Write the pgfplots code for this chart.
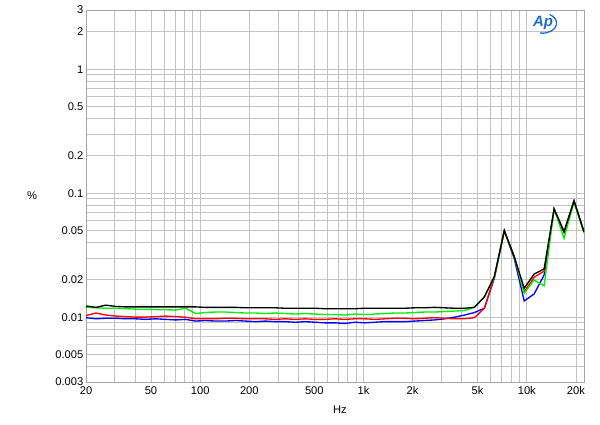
\documentclass[border=0pt]{standalone}
\usepackage{pgfplots}
\pgfplotsset{compat=1.18}
\usepackage{fontspec}
\setmainfont{Liberation Sans}
\definecolor{gridc}{RGB}{195,195,195}
\definecolor{framec}{RGB}{165,165,165}
\definecolor{apblue}{RGB}{30,110,200}
\definecolor{tgreen}{RGB}{0,240,0}
\begin{document}
\begin{tikzpicture}
\useasboundingbox (-86bp,-43bp) rectangle (514bp,382bp);
\begin{axis}[
  at={(0,0)}, anchor=south west,
  scale only axis, width=498bp, height=372bp,
  xmode=log, ymode=log,
  xmin=20, xmax=22400, ymin=0.003, ymax=3,
  xtick={20,50,100,200,500,1000,2000,5000,10000,20000},
  xticklabels={20,50,100,200,500,1k,2k,5k,10k,20k},
  minor xtick={30,40,60,70,80,90,300,400,600,700,800,900,3000,4000,6000,7000,8000,9000},
  ytick={0.003,0.005,0.01,0.02,0.05,0.1,0.2,0.5,1,2,3},
  yticklabels={0.003,0.005,0.01,0.02,0.05,0.1,0.2,0.5,1,2,3},
  minor ytick={0.004,0.006,0.007,0.008,0.009,0.03,0.04,0.06,0.07,0.08,0.09,0.3,0.4,0.6,0.7,0.8,0.9},
  grid=both,
  major grid style={gridc, line width=0.7pt},
  minor grid style={gridc, line width=0.7pt},
  axis line style={framec, line width=0.8pt},
  major tick length=0pt, minor tick length=0pt,
  tick label style={font=\fontsize{11.2}{13}\selectfont},
  yticklabel style={inner sep=2.5bp},
  xticklabel style={inner sep=0bp, yshift=-4.5bp},
  label style={font=\fontsize{11.2}{13}\selectfont},
  xlabel={Hz},
  xlabel style={at={(axis description cs:0.51,0)}, anchor=center, yshift=-28bp},
  ylabel={\%},
  ylabel style={rotate=-90, at={(axis description cs:0,0.5)}, anchor=center, xshift=-54bp},
  clip=true,
]
% blue
\addplot[blue, line width=1.35pt] table {
20 0.0099
23.0 0.0097
26.5 0.0098
30.5 0.0098
35.1 0.0097
40.4 0.0097
46.4 0.0096
53.4 0.0097
61.5 0.0096
70.8 0.0095
81.4 0.0096
93.7 0.0093
107.8 0.0094
124.1 0.0093
142.8 0.0093
164.3 0.0094
189.1 0.0093
217.6 0.0092
250.4 0.0093
288.2 0.0092
331.6 0.0092
381.6 0.0091
439.2 0.0092
505.4 0.0091
581.6 0.0090
669.3 0.0090
770.2 0.0089
886.3 0.0091
1020 0.0090
1174 0.0091
1351 0.0092
1554 0.0092
1788 0.0092
2058 0.0093
2368 0.0094
2725 0.0095
3136 0.0097
3609 0.0100
4153 0.0104
4779 0.0109
5499 0.0118
6328 0.0206
7282 0.0498
8380 0.0297
9643 0.0135
11097 0.0154
12770 0.0219
14695 0.0745
16910 0.0487
19459 0.0865
22393 0.0488
};
% red
\addplot[red, line width=1.35pt] table {
20 0.0103
23.0 0.0108
26.5 0.0104
30.5 0.0102
35.1 0.0101
40.4 0.0100
46.4 0.0100
53.4 0.0101
61.5 0.0102
70.8 0.0101
81.4 0.0100
93.7 0.0097
107.8 0.0097
124.1 0.0097
142.8 0.0098
164.3 0.0098
189.1 0.0097
217.6 0.0097
250.4 0.0097
288.2 0.0096
331.6 0.0097
381.6 0.0096
439.2 0.0097
505.4 0.0096
581.6 0.0096
669.3 0.0097
770.2 0.0096
886.3 0.0097
1020 0.0097
1174 0.0096
1351 0.0097
1554 0.0098
1788 0.0098
2058 0.0097
2368 0.0098
2725 0.0099
3136 0.0098
3609 0.0097
4153 0.0097
4779 0.0099
5499 0.0118
6328 0.0210
7282 0.0498
8380 0.0307
9643 0.0160
11097 0.0210
12770 0.0235
14695 0.0745
16910 0.0487
19459 0.0865
22393 0.0488
};
% green
\addplot[tgreen, line width=1.35pt] table {
20 0.0120
23.0 0.0119
26.5 0.0118
30.5 0.0118
35.1 0.0117
40.4 0.0116
46.4 0.0116
53.4 0.0115
61.5 0.0115
70.8 0.0114
81.4 0.0118
93.7 0.0107
107.8 0.0109
124.1 0.0110
142.8 0.0110
164.3 0.0109
189.1 0.0108
217.6 0.0108
250.4 0.0107
288.2 0.0108
331.6 0.0107
381.6 0.0106
439.2 0.0107
505.4 0.0106
581.6 0.0105
669.3 0.0105
770.2 0.0104
886.3 0.0106
1020 0.0105
1174 0.0106
1351 0.0107
1554 0.0108
1788 0.0108
2058 0.0109
2368 0.0110
2725 0.0110
3136 0.0111
3609 0.0112
4153 0.0113
4779 0.0120
5499 0.0145
6328 0.0210
7282 0.0498
8380 0.0307
9643 0.0156
11097 0.0199
12770 0.0179
14695 0.0745
16910 0.0432
19459 0.0850
22393 0.0480
};
% black
\addplot[black, line width=1.35pt] table {
20 0.0123
23.0 0.0120
26.5 0.0125
30.5 0.0122
35.1 0.0121
40.4 0.0121
46.4 0.0121
53.4 0.0121
61.5 0.0121
70.8 0.0121
81.4 0.0121
93.7 0.0121
107.8 0.0120
124.1 0.0120
142.8 0.0120
164.3 0.0120
189.1 0.0119
217.6 0.0119
250.4 0.0119
288.2 0.0119
331.6 0.0118
381.6 0.0118
439.2 0.0118
505.4 0.0118
581.6 0.0117
669.3 0.0117
770.2 0.0117
886.3 0.0117
1020 0.0118
1174 0.0118
1351 0.0118
1554 0.0118
1788 0.0118
2058 0.0119
2368 0.0119
2725 0.0120
3136 0.0119
3609 0.0118
4153 0.0118
4779 0.0120
5499 0.0146
6328 0.0213
7282 0.0498
8380 0.0307
9643 0.0171
11097 0.0223
12770 0.0245
14695 0.0745
16910 0.0487
19459 0.0865
22393 0.0488
};
\node[text=apblue, font=\bfseries\itshape\fontsize{15}{15}\selectfont, inner sep=0pt] at (axis description cs:0.918,0.965) {Ap};
\draw[apblue, line width=1.3pt] ([shift={(-3bp,-10bp)}]axis description cs:0.918,0.965) arc[start angle=-100, end angle=60, x radius=14bp, y radius=10bp];
\end{axis}
\end{tikzpicture}
\end{document}
